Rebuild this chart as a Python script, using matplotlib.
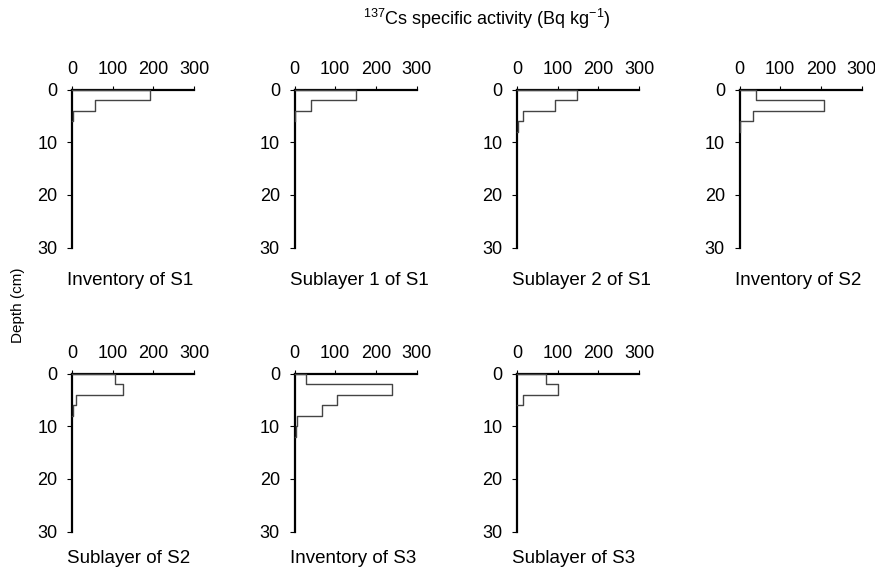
import numpy as np
import matplotlib
matplotlib.use("Agg")
import matplotlib.pyplot as plt

# ==========================
# Data (137Cs activity per 2 cm layer, Bq/kg)
# ==========================
panel_titles = [
    "Inventory of S1", "Sublayer 1 of S1", "Sublayer 2 of S1", "Inventory of S2",
    "Sublayer of S2", "Inventory of S3", "Sublayer of S3",
]
inv_s1 = [191, 57, 2]
sub1_s1 = [152, 41, 1]
sub2_s1 = [148, 93, 15, 2]
inv_s2 = [40, 207, 32, 2]
sub_s2 = [106, 126, 9, 2]
inv_s3 = [29, 240, 104, 67, 5, 4]
sub_s3 = [72, 101, 15]
profiles = [inv_s1, sub1_s1, sub2_s1, inv_s2, sub_s2, inv_s3, sub_s3]
layer_thickness = 2
x_ticks = [0, 100, 200, 300]
y_ticks = [0, 10, 20, 30]

# ==========================
# Style
# ==========================
plt.rcParams["font.family"] = ["Liberation Sans", "DejaVu Sans"]
plt.rcParams["mathtext.default"] = "regular"

W, H = 875, 570
fig = plt.figure(figsize=(W / 100, H / 100), dpi=100)

col_left = [72, 294.5, 517, 739.5]
row_top = [89.5, 373.5]
label_offset = [-0.21, -0.17]
ax_w, ax_h = 122, 158


def step_path(vals):
    edges = np.arange(len(vals) + 1) * layer_thickness
    xs = [0]
    ys = [0]
    for i, v in enumerate(vals):
        xs += [v, v]
        ys += [edges[i], edges[i + 1]]
    xs.append(0)
    ys.append(edges[-1])
    return xs, ys


for k, (vals, title) in enumerate(zip(profiles, panel_titles)):
    r, c = divmod(k, 4)
    left = col_left[c] / W
    bottom = 1 - (row_top[r] + ax_h) / H
    ax = fig.add_axes([left, bottom, ax_w / W, ax_h / H])

    xs, ys = step_path(vals)
    ax.plot(xs, ys, color="#444444", lw=1.0, clip_on=False, zorder=3)

    ax.set_xlim(0, 300)
    ax.set_ylim(30, 0)
    ax.spines["bottom"].set_visible(False)
    ax.spines["right"].set_visible(False)
    ax.spines["top"].set_linewidth(1.6)
    ax.spines["left"].set_linewidth(1.6)
    ax.xaxis.tick_top()
    ax.set_xticks(x_ticks)
    ax.set_yticks(y_ticks)
    ax.tick_params(axis="x", direction="out", length=3, width=0.8,
                   labelsize=13, pad=5.5)
    ax.tick_params(axis="y", direction="out", length=3.5, width=0.8,
                   labelsize=13, pad=7)
    ax.patch.set_alpha(0)

    ax.text(-0.037, label_offset[r], title, transform=ax.transAxes,
            fontsize=13.5, ha="left", va="center")

fig.text(18 / W, 1 - 305 / H, "Depth (cm)", rotation=90,
         fontsize=11, ha="center", va="center")
fig.text(487 / W, 1 - 19 / H, r"$^{137}$Cs specific activity (Bq kg$^{-1}$)",
         fontsize=13, ha="center", va="center")

fig.savefig("out.png", dpi=100)
